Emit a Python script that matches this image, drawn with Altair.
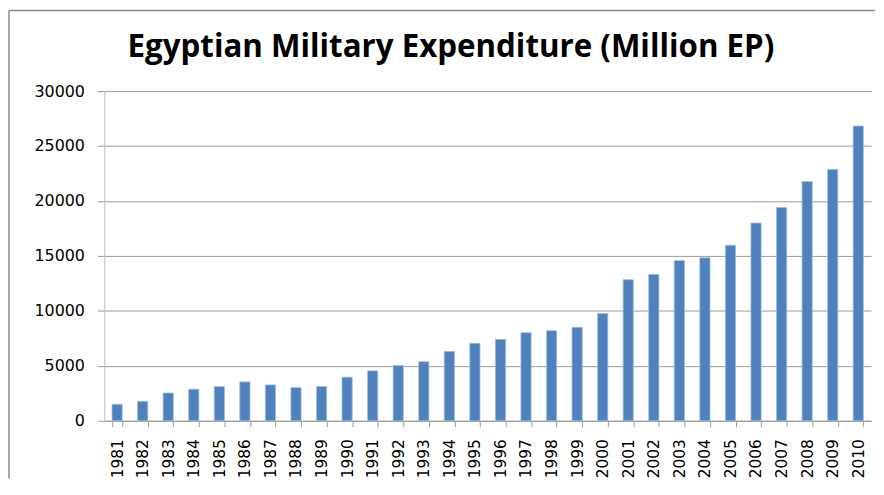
import altair as alt
import pandas as pd

years = ["1981", "1982", "1983", "1984", "1985", "1986", "1987", "1988", "1989", "1990",
         "1991", "1992", "1993", "1994", "1995", "1996", "1997", "1998", "1999", "2000",
         "2001", "2002", "2003", "2004", "2005", "2006", "2007", "2008", "2009", "2010"]
spending = [1500, 1770, 2530, 2870, 3110, 3540, 3260, 3020, 3110, 3970,
            4540, 5030, 5370, 6310, 7050, 7410, 8020, 8200, 8500, 9760,
            12840, 13320, 14580, 14830, 15970, 17990, 19410, 21760, 22870, 26820]
y_ticks = [0, 5000, 10000, 15000, 20000, 25000, 30000]
title_text = "Egyptian Military Expenditure (Million EP)"

df = pd.DataFrame({"year": years, "value": spending})
tdf = pd.DataFrame({"t": [title_text]})

W, H = 772, 332

bars = alt.Chart(df).mark_bar(color="#4F81BD", stroke="#a3bde0", strokeWidth=0.8).encode(
    x=alt.X("year:N", sort=years, title=None,
            scale=alt.Scale(paddingInner=0.6, paddingOuter=0.3),
            axis=alt.Axis(labelAngle=-90, tickBand="extent", tickSize=6,
                          labelFontSize=15.5, labelFont="DejaVu Sans",
                          labelAlign="right", labelBaseline="middle")),
    y=alt.Y("value:Q", title=None,
            scale=alt.Scale(domain=[0, 30000], nice=False),
            axis=alt.Axis(values=y_ticks, format="d")),
)

title_mark = alt.Chart(tdf).mark_text(
    font="Open Sans", fontSize=31.5, fontWeight="bold", color="#000000",
    align="center", baseline="alphabetic").encode(
    text="t:N", x=alt.value(349), y=alt.value(-34))

frame_left = alt.Chart(tdf).mark_rule(color="#8a8a8a", strokeWidth=1.5).encode(
    x=alt.value(-96), y=alt.value(-81), y2=alt.value(390))
frame_top = alt.Chart(tdf).mark_rule(color="#8a8a8a", strokeWidth=1.5).encode(
    x=alt.value(-96), x2=alt.value(776), y=alt.value(-81))

chart = alt.layer(bars, title_mark, frame_left, frame_top).properties(
    width=W, height=H,
    padding={"left": 0, "top": 0, "right": 0, "bottom": 0},
).configure_view(stroke=None).configure_axis(
    grid=False, labelFont="DejaVu Sans", labelColor="#000000",
    tickColor="#9a9a9a", domainColor="#9a9a9a"
).configure_axisX(
    labelPadding=12, tickSize=6, labelAngle=-90
).configure_axisY(
    grid=True, gridColor="#9c9c9c", gridWidth=1, labelFontSize=16,
    labelPadding=13, tickSize=7, domainColor="#bdbdbd"
)

chart.save("out.html", embed_options={"renderer": "svg", "actions": False})
